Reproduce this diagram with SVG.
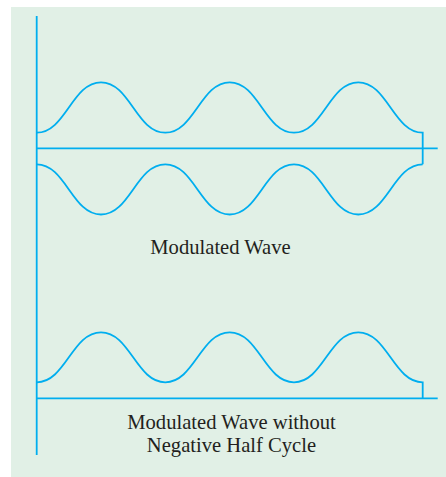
<svg xmlns="http://www.w3.org/2000/svg" width="446" height="477" viewBox="0 0 446 477">
<style>
.ln{fill:none;stroke:#00aeef;stroke-width:1.8;stroke-linejoin:miter}
.lb{font-family:"Liberation Serif","Times New Roman",serif;font-size:20.6px;fill:#231f20;text-anchor:middle}
</style>
<rect x="11" y="7" width="435" height="470" fill="#e1f0e6"/>
<g id="connectors">
<path id="axis-vertical" class="ln" d="M36.7,16 V455"/>
<path id="axis-top" class="ln" d="M36.7,148.3 H437.7"/>
<path id="axis-bottom" class="ln" d="M36.7,398.3 H437.7"/>
</g>
<g id="modulated-wave">
<path class="ln" d="M36.7,132.7 C65.6,132.7 72.1,82.3 101,82.3 S136.4,132.7 165.3,132.7 S200.8,82.3 229.7,82.3 S265.1,132.7 294,132.7 S329.4,82.3 358.3,82.3 S393.8,132.7 422.7,132.7 V164.3"/>
<path class="ln" d="M36.7,164.3 C65.6,164.3 72.1,214.5 101,214.5 S136.4,164.3 165.3,164.3 S200.8,214.5 229.7,214.5 S265.1,164.3 294,164.3 S329.4,214.5 358.3,214.5 S393.8,164.3 422.7,164.3"/>
<text class="lb" x="220.5" y="254">Modulated Wave</text>
</g>
<g id="rectified-wave">
<path class="ln" d="M36.7,382.3 C65.6,382.3 72.1,332.3 101,332.3 S136.4,382.3 165.3,382.3 S200.8,332.3 229.7,332.3 S265.1,382.3 294,382.3 S329.4,332.3 358.3,332.3 S393.8,382.3 422.7,382.3 V398.3"/>
<text class="lb" x="231.5" y="428.8">Modulated Wave without</text>
<text class="lb" x="231.5" y="451.8">Negative Half Cycle</text>
</g>
</svg>
